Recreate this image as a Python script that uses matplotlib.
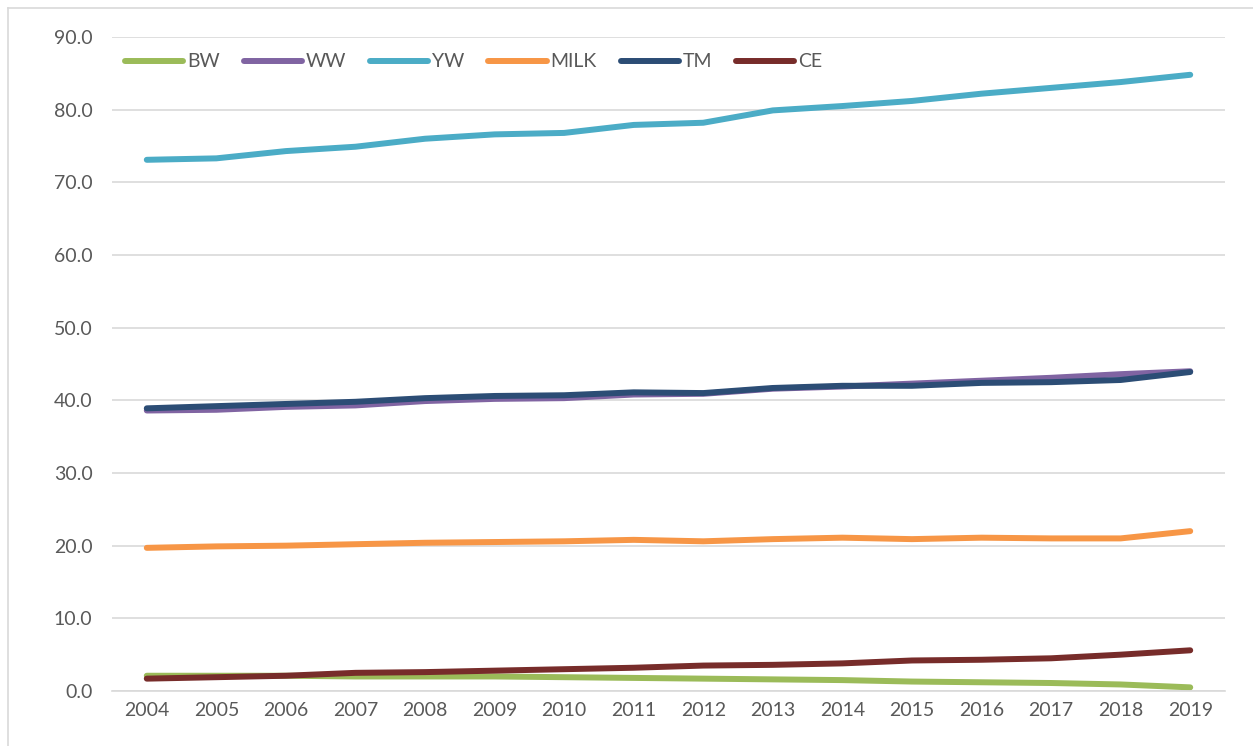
import numpy as np
import matplotlib
matplotlib.use("Agg")
import matplotlib.pyplot as plt
from matplotlib.lines import Line2D

years = [str(y) for y in range(2004, 2020)]

bw = [2.1, 2.1, 2.1, 2.0, 2.0, 2.0, 1.9, 1.8, 1.7, 1.6, 1.5, 1.3, 1.2, 1.1, 0.9, 0.5]
ww = [38.6, 38.7, 39.1, 39.3, 39.9, 40.2, 40.3, 40.8, 40.9, 41.6, 41.9, 42.3, 42.7, 43.1, 43.6, 44.0]
yw = [73.1, 73.3, 74.3, 74.9, 76.0, 76.6, 76.8, 77.9, 78.2, 79.9, 80.5, 81.2, 82.2, 83.0, 83.8, 84.8]
milk = [19.7, 19.9, 20.0, 20.2, 20.4, 20.5, 20.6, 20.8, 20.6, 20.9, 21.1, 20.9, 21.1, 21.0, 21.0, 22.0]
tm = [38.9, 39.2, 39.5, 39.8, 40.3, 40.6, 40.7, 41.1, 41.0, 41.7, 42.0, 42.0, 42.4, 42.5, 42.8, 43.9]
ce = [1.7, 1.9, 2.1, 2.5, 2.6, 2.8, 3.0, 3.2, 3.5, 3.6, 3.8, 4.2, 4.3, 4.5, 5.0, 5.6]

series = [
    ("BW", bw, "#9BBB59"),
    ("WW", ww, "#8064A2"),
    ("YW", yw, "#4BACC6"),
    ("MILK", milk, "#F79646"),
    ("TM", tm, "#2C4D75"),
    ("CE", ce, "#772C2A"),
]

plt.rcParams['font.family'] = ['Lato', 'DejaVu Sans']

W, H = 1253, 746
fig = plt.figure(figsize=(W / 100, H / 100), dpi=100)
ax = fig.add_axes([112 / W, 1 - 691 / H, (1225 - 112) / W, (691 - 37) / H])

# chart area border (only left and top edges are inside the image)
fig.add_artist(Line2D([7.5 / W, 7.5 / W], [0, 1 - 7.5 / H], color='#D9D9D9', lw=1.2))
fig.add_artist(Line2D([7.5 / W, 1], [1 - 7.5 / H, 1 - 7.5 / H], color='#D9D9D9', lw=1.2))

x = np.arange(len(years))
for name, vals, col in series:
    ax.plot(x, vals, color=col, lw=4.3, solid_capstyle='round', label=name)

ax.set_xlim(-0.5, len(years) - 0.5)
ax.set_ylim(0, 90)
ax.set_yticks(np.arange(0, 91, 10))
ax.set_yticklabels([f"{v:.1f}" for v in np.arange(0, 91, 10)])
ax.set_xticks(x)
ax.set_xticklabels(years)

ax.grid(axis='y', color='#D9D9D9', lw=1.2)
ax.set_axisbelow(True)
for s in ['top', 'right', 'left']:
    ax.spines[s].set_visible(False)
ax.spines['bottom'].set_color('#D9D9D9')
ax.spines['bottom'].set_linewidth(1.2)
ax.tick_params(length=0, labelsize=14, labelcolor='#595959')
ax.tick_params(axis='x', pad=8)
ax.tick_params(axis='y', pad=14)

ax.legend(loc='center left', bbox_to_anchor=(13 / 1113, 1 - 25 / 654), ncol=6, frameon=False,
          fontsize=14, handlelength=3.0, columnspacing=1.22, handletextpad=0.2,
          borderaxespad=0.0, borderpad=0.0, labelcolor='#595959')

fig.savefig("out.png", dpi=100)
